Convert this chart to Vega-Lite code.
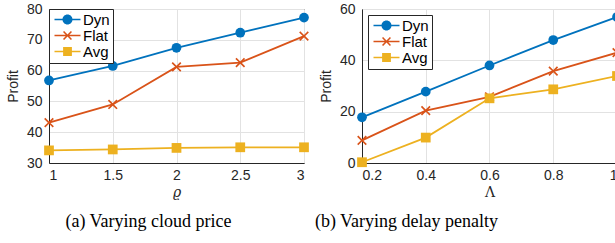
{
  "$schema": "https://vega.github.io/schema/vega-lite/v6.json",
  "padding": {"left": 5, "top": 1, "right": 0, "bottom": 0},
  "spacing": 4,
  "config": {
    "view": {"stroke": "#262626", "strokeWidth": 1},
    "axis": {
      "labelFont": "Liberation Sans", "labelFontSize": 14, "labelColor": "#262626",
      "titleFont": "Liberation Sans", "titleFontSize": 14, "titleFontWeight": "normal", "titleColor": "#262626",
      "gridColor": "#e2e2e2", "domainColor": "#262626", "ticks": false
    },
    "axisX": {"labelPadding": 5, "titlePadding": 3},
    "axisY": {"labelPadding": 7, "titlePadding": 6},
    "legend": {
      "labelFont": "Liberation Sans", "labelFontSize": 15, "labelColor": "#000000",
      "strokeColor": "#262626", "fillColor": "#ffffff", "padding": 3, "rowPadding": 0,
      "symbolSize": 100, "symbolStrokeWidth": 0, "symbolOffset": 8, "labelOffset": 8, "title": null
    },
    "title": {"font": "Liberation Serif", "fontSize": 18, "fontWeight": "normal", "color": "#000000", "orient": "bottom", "anchor": "middle", "offset": 14}
  },
  "datasets": {
    "a": [
      {"x": 1, "s": "Dyn", "y": 56.8}, {"x": 1.5, "s": "Dyn", "y": 61.5}, {"x": 2, "s": "Dyn", "y": 67.4}, {"x": 2.5, "s": "Dyn", "y": 72.3}, {"x": 3, "s": "Dyn", "y": 77.2},
      {"x": 1, "s": "Flat", "y": 43.1}, {"x": 1.5, "s": "Flat", "y": 49.0}, {"x": 2, "s": "Flat", "y": 61.2}, {"x": 2.5, "s": "Flat", "y": 62.6}, {"x": 3, "s": "Flat", "y": 71.2},
      {"x": 1, "s": "Avg", "y": 34.1}, {"x": 1.5, "s": "Avg", "y": 34.4}, {"x": 2, "s": "Avg", "y": 34.9}, {"x": 2.5, "s": "Avg", "y": 35.1}, {"x": 3, "s": "Avg", "y": 35.1}
    ],
    "b": [
      {"x": 0.2, "s": "Dyn", "y": 17.8}, {"x": 0.4, "s": "Dyn", "y": 27.8}, {"x": 0.6, "s": "Dyn", "y": 38.0}, {"x": 0.8, "s": "Dyn", "y": 47.9}, {"x": 1, "s": "Dyn", "y": 56.9},
      {"x": 0.2, "s": "Flat", "y": 8.8}, {"x": 0.4, "s": "Flat", "y": 20.4}, {"x": 0.6, "s": "Flat", "y": 25.8}, {"x": 0.8, "s": "Flat", "y": 35.8}, {"x": 1, "s": "Flat", "y": 43.0},
      {"x": 0.2, "s": "Avg", "y": 0.3}, {"x": 0.4, "s": "Avg", "y": 9.9}, {"x": 0.6, "s": "Avg", "y": 25.2}, {"x": 0.8, "s": "Avg", "y": 28.7}, {"x": 1, "s": "Avg", "y": 33.9}
    ]
  },
  "resolve": {"scale": {"color": "independent", "shape": "independent"}, "legend": {"color": "independent", "shape": "independent"}},
  "hconcat": [
    {
      "width": 255, "height": 154,
      "data": {"name": "a"},
      "title": {"text": "(a) Varying cloud price", "dx": -28},
      "encoding": {
        "x": {"field": "x", "type": "quantitative", "scale": {"domain": [1, 3], "nice": false},
          "axis": {"values": [1, 1.5, 2, 2.5, 3], "format": "~g", "title": "ϱ", "titleFont": "DejaVu Serif", "titleFontStyle": "italic"}},
        "y": {"field": "y", "type": "quantitative", "scale": {"domain": [30, 80], "nice": false},
          "axis": {"values": [30, 40, 50, 60, 70, 80], "title": "Profit"}}
      },
      "layer": [
        {"mark": {"type": "line", "strokeWidth": 1.8},
          "encoding": {"color": {"field": "s", "type": "nominal", "scale": {"domain": ["Dyn", "Flat", "Avg"], "range": ["#0072BD", "#D95319", "#EDB120"]}, "legend": null}}},
        {"mark": {"type": "point", "filled": true, "opacity": 1, "size": 95},
          "encoding": {
            "color": {"field": "s", "type": "nominal", "scale": {"domain": ["Dyn", "Flat", "Avg"], "range": ["#0072BD", "#D95319", "#EDB120"]}, "legend": null},
            "shape": {"field": "s", "type": "nominal", "scale": {"domain": ["Dyn", "Flat", "Avg"], "range": ["circle", "M-1,-0.76L-0.76,-1L0,-0.24L0.76,-1L1,-0.76L0.24,0L1,0.76L0.76,1L0,0.24L-0.76,1L-1,0.76L-0.24,0Z", "square"]}, "legend": null}}},
        {"transform": [{"filter": "datum.y < -1000"}],
          "mark": {"type": "point", "filled": true, "opacity": 1, "size": 100},
          "encoding": {
            "color": {"field": "s", "type": "nominal", "scale": {"domain": ["Dyn", "Flat", "Avg"], "range": ["#0072BD", "#D95319", "#EDB120"]}, "legend": {"orient": "top-left", "offset": 0}},
            "shape": {"field": "s", "type": "nominal", "scale": {"domain": ["Dyn", "Flat", "Avg"], "range": ["M-2.6,-0.16H2.6V0.16H-2.6Z M1,0A1,1,0,1,1,-1,0A1,1,0,1,1,1,0Z", "M-2.6,-0.16H2.6V0.16H-2.6Z M-0.9,-0.68L-0.68,-0.9L0,-0.22L0.68,-0.9L0.9,-0.68L0.22,0L0.9,0.68L0.68,0.9L0,0.22L-0.68,0.9L-0.9,0.68L-0.22,0Z", "M-2.6,-0.16H2.6V0.16H-2.6Z M-0.88,-0.88H0.88V0.88H-0.88Z"]}, "legend": {"orient": "top-left", "offset": 0}}}}
      ],
      "resolve": {"scale": {"color": "independent", "shape": "independent"}, "legend": {"color": "independent", "shape": "independent"}}
    },
    {
      "width": 255, "height": 154,
      "data": {"name": "b"},
      "title": {"text": "(b) Varying delay penalty", "dx": -83},
      "encoding": {
        "x": {"field": "x", "type": "quantitative", "scale": {"domain": [0.2, 1], "nice": false},
          "axis": {"values": [0.2, 0.4, 0.6, 0.8, 1], "format": "~g", "title": "Λ", "titleFont": "DejaVu Serif"}},
        "y": {"field": "y", "type": "quantitative", "scale": {"domain": [0, 60], "nice": false},
          "axis": {"values": [0, 20, 40, 60], "title": "Profit"}}
      },
      "layer": [
        {"mark": {"type": "line", "strokeWidth": 1.8},
          "encoding": {"color": {"field": "s", "type": "nominal", "scale": {"domain": ["Dyn", "Flat", "Avg"], "range": ["#0072BD", "#D95319", "#EDB120"]}, "legend": null}}},
        {"mark": {"type": "point", "filled": true, "opacity": 1, "size": 95},
          "encoding": {
            "color": {"field": "s", "type": "nominal", "scale": {"domain": ["Dyn", "Flat", "Avg"], "range": ["#0072BD", "#D95319", "#EDB120"]}, "legend": null},
            "shape": {"field": "s", "type": "nominal", "scale": {"domain": ["Dyn", "Flat", "Avg"], "range": ["circle", "M-1,-0.76L-0.76,-1L0,-0.24L0.76,-1L1,-0.76L0.24,0L1,0.76L0.76,1L0,0.24L-0.76,1L-1,0.76L-0.24,0Z", "square"]}, "legend": null}}},
        {"transform": [{"filter": "datum.y < -1000"}],
          "mark": {"type": "point", "filled": true, "opacity": 1, "size": 100},
          "encoding": {
            "color": {"field": "s", "type": "nominal", "scale": {"domain": ["Dyn", "Flat", "Avg"], "range": ["#0072BD", "#D95319", "#EDB120"]}, "legend": {"orient": "top-left", "offset": 6}},
            "shape": {"field": "s", "type": "nominal", "scale": {"domain": ["Dyn", "Flat", "Avg"], "range": ["M-2.6,-0.16H2.6V0.16H-2.6Z M1,0A1,1,0,1,1,-1,0A1,1,0,1,1,1,0Z", "M-2.6,-0.16H2.6V0.16H-2.6Z M-0.9,-0.68L-0.68,-0.9L0,-0.22L0.68,-0.9L0.9,-0.68L0.22,0L0.9,0.68L0.68,0.9L0,0.22L-0.68,0.9L-0.9,0.68L-0.22,0Z", "M-2.6,-0.16H2.6V0.16H-2.6Z M-0.88,-0.88H0.88V0.88H-0.88Z"]}, "legend": {"orient": "top-left", "offset": 6}}}}
      ],
      "resolve": {"scale": {"color": "independent", "shape": "independent"}, "legend": {"color": "independent", "shape": "independent"}}
    }
  ]
}
